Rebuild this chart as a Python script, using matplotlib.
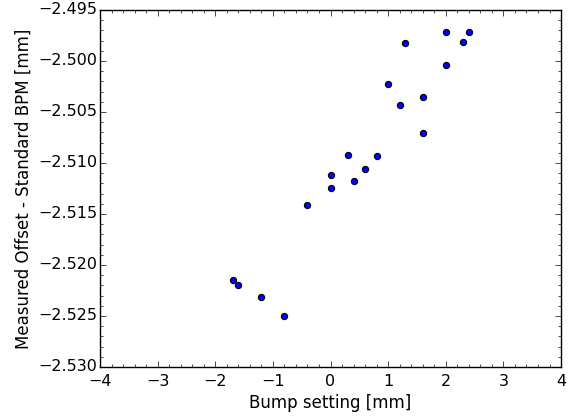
import matplotlib
matplotlib.use('Agg')
import matplotlib.pyplot as plt
from matplotlib.ticker import MultipleLocator, FuncFormatter

bump = [2.0, 2.4, 1.3, 2.3, 2.0, 1.0, 1.6, 1.2, 1.6, 0.3,
        0.8, 0.0, 0.6, 0.4, 0.0, -0.4, -1.7, -1.6, -1.2, -0.8]
offset = [-2.49713, -2.49719, -2.49826, -2.49814, -2.50036, -2.50225, -2.50350,
          -2.50428, -2.50709, -2.50919, -2.50931, -2.51115, -2.51062, -2.51176,
          -2.51242, -2.51409, -2.52144, -2.52196, -2.52314, -2.52500]

plt.style.use('classic')
fig = plt.figure(figsize=(5.75, 4.16), dpi=100, facecolor='white')
ax = fig.add_axes([0.174, 0.118, 0.8017, 0.858])

ax.scatter(bump, offset, s=20, c='b', edgecolors='k', linewidths=0.8, zorder=3)

ax.set_xlim(-4, 4)
ax.set_ylim(-2.530, -2.495)
ax.xaxis.set_major_locator(MultipleLocator(1))
ax.xaxis.set_minor_locator(MultipleLocator(0.2))
ax.yaxis.set_major_locator(MultipleLocator(0.005))
ax.yaxis.set_minor_locator(MultipleLocator(0.001))
ax.xaxis.set_major_formatter(FuncFormatter(lambda v, p: ('%d' % round(v)).replace('-', '\u2212')))
ax.yaxis.set_major_formatter(FuncFormatter(lambda v, p: ('%.3f' % v).replace('-', '\u2212')))
ax.tick_params(labelsize=11.5)
ax.tick_params(which='minor', length=2)
ax.tick_params(which='major', length=4)
ax.tick_params(axis='y', which='major', pad=2)
ax.tick_params(axis='x', which='major', pad=5)

ax.set_xlabel('Bump setting [mm]', fontsize=12, labelpad=4)
ax.set_ylabel('Measured Offset - Standard BPM [mm]', fontsize=12, labelpad=4)

fig.savefig('out.png', dpi=100, facecolor='white')
